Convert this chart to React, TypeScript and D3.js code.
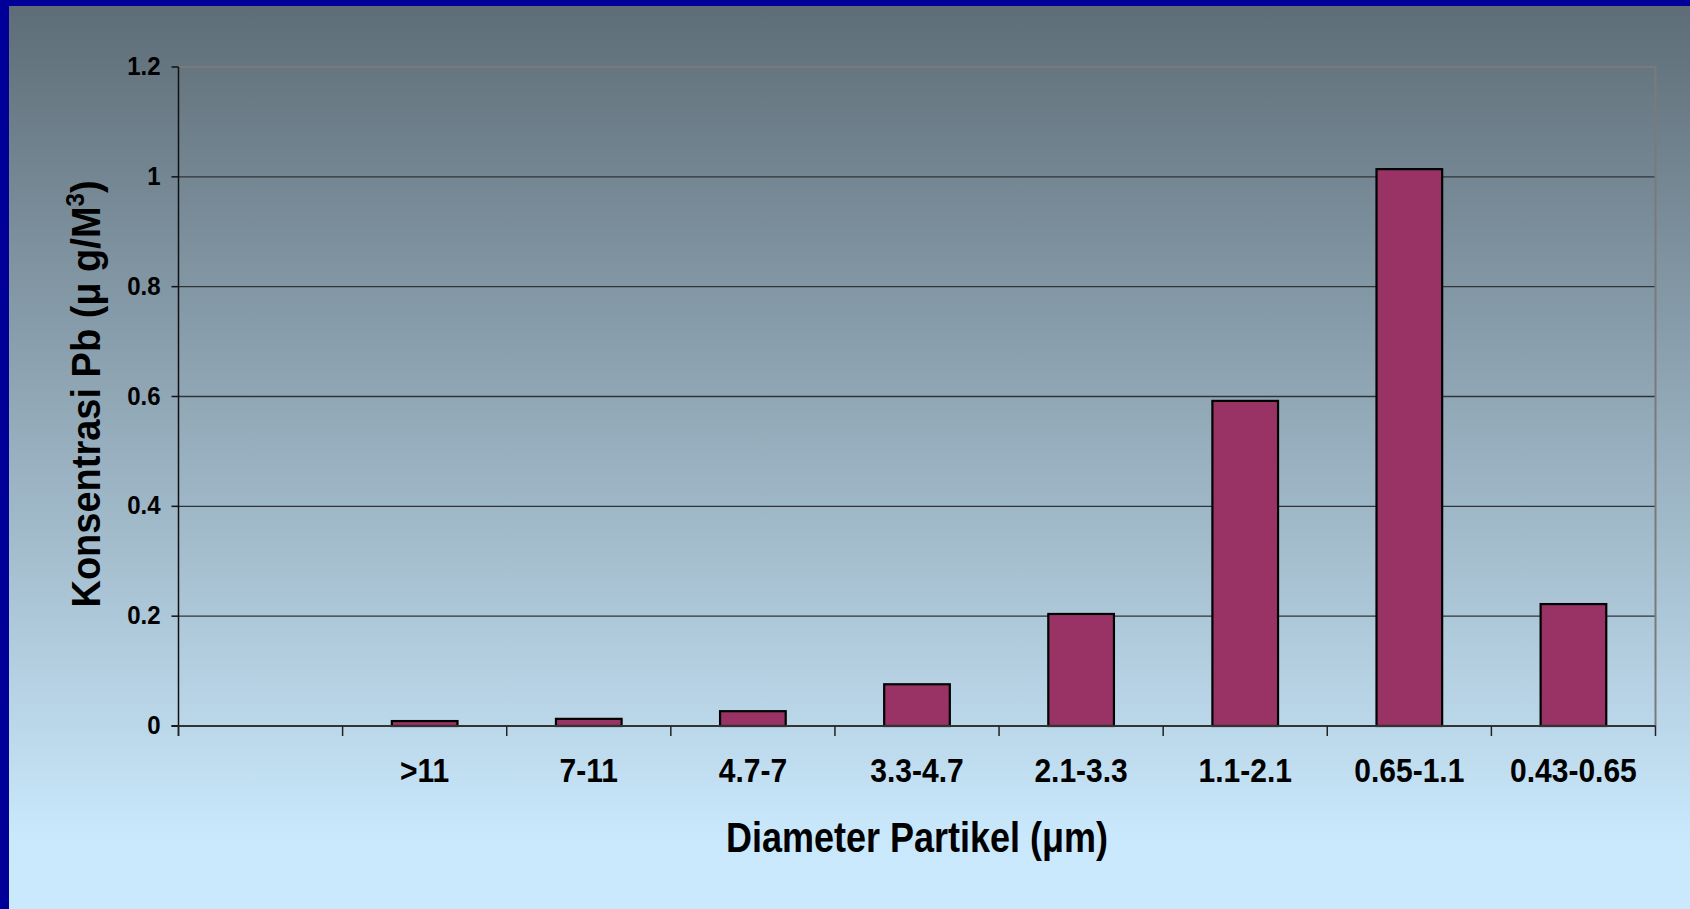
import React from "react";
import * as d3 from "d3";

const categories = ["", ">11", "7-11", "4.7-7", "3.3-4.7", "2.1-3.3", "1.1-2.1", "0.65-1.1", "0.43-0.65"];
const values: (number | null)[] = [null, 0.009, 0.013, 0.027, 0.076, 0.204, 0.592, 1.014, 0.222];
const yTicks = [0, 0.2, 0.4, 0.6, 0.8, 1, 1.2];
const yTickLabels = ["0", "0.2", "0.4", "0.6", "0.8", "1", "1.2"];

const W = 1690;
const H = 909;
const plot = { left: 178.5, right: 1655.5, top: 67, bottom: 726 };
const FONT = "'Liberation Sans', Arial, Helvetica, sans-serif";

export default function App() {
  const slot = d3
    .scaleBand<string>()
    .domain(categories.map((c, i) => String(i)))
    .range([plot.left, plot.right]);
  const y = d3.scaleLinear().domain([0, 1.2]).range([plot.bottom, plot.top]);
  const step = slot.step();
  const barW = step / 2.5;

  const boundaries = d3.range(categories.length + 1).map((i) => plot.left + i * step);

  return (
    <svg
      width={W}
      height={H}
      style={{ position: "absolute", left: 0, top: 0, display: "block" }}
      xmlns="http://www.w3.org/2000/svg"
    >
      <defs>
        <linearGradient id="bg" x1="0" y1="0" x2="0" y2="1">
          <stop offset="0" stopColor="#5d6c76" />
          <stop offset="0.45" stopColor="#93aab9" />
          <stop offset="0.9" stopColor="#c9e8fb" />
          <stop offset="1" stopColor="#cbeafd" />
        </linearGradient>
      </defs>
      <rect x={0} y={0} width={W + 20} height={H + 20} fill="url(#bg)" />
      <rect x={0} y={0} width={W + 20} height={6} fill="#000099" />
      <rect x={0} y={0} width={9} height={H + 20} fill="#000099" />

      {/* gridlines */}
      {yTicks.slice(1, -1).map((t) => (
        <line key={"g" + t} x1={plot.left} x2={plot.right} y1={y(t)} y2={y(t)} stroke="#2f3438" strokeWidth={1.3} />
      ))}
      {/* top and right border */}
      <line x1={plot.left} x2={plot.right} y1={y(1.2)} y2={y(1.2)} stroke="#7a7a7a" strokeWidth={2} />
      <line x1={plot.right} x2={plot.right} y1={y(1.2)} y2={plot.bottom} stroke="#7a7a7a" strokeWidth={2} />

      {/* bars */}
      {values.map((v, i) =>
        v == null ? null : (
          <rect
            key={"b" + i}
            x={slot(String(i))! + (step - barW) / 2}
            y={y(v)}
            width={barW}
            height={plot.bottom - y(v)}
            fill="#993366"
            stroke="#000"
            strokeWidth={2.2}
          />
        )
      )}

      {/* axes */}
      <line x1={plot.left} x2={plot.left} y1={plot.top} y2={plot.bottom + 10} stroke="#111" strokeWidth={1.5} />
      <line x1={plot.left - 7} x2={plot.right} y1={plot.bottom} y2={plot.bottom} stroke="#333" strokeWidth={2} />
      {yTicks.map((t) => (
        <line key={"yt" + t} x1={plot.left - 7} x2={plot.left} y1={y(t)} y2={y(t)} stroke="#111" strokeWidth={1.5} />
      ))}
      {boundaries.map((bx, i) => (
        <line key={"xt" + i} x1={bx} x2={bx} y1={plot.bottom} y2={plot.bottom + 10} stroke="#222" strokeWidth={1.5} />
      ))}

      {/* y tick labels */}
      {yTicks.map((t, i) => (
        <g key={"yl" + t} transform={`translate(${plot.left - 18},${y(t) + 8}) scale(1,1.08)`}>
          <text x={0} y={0} textAnchor="end" fontFamily={FONT} fontWeight="bold" fontSize={24} fill="#000">
            {yTickLabels[i]}
          </text>
        </g>
      ))}

      {/* x tick labels */}
      {categories.map((c, i) => (
        <g key={"xl" + i} transform={`translate(${slot(String(i))! + step / 2},782) scale(1,1.1)`}>
          <text x={0} y={0} textAnchor="middle" fontFamily={FONT} fontWeight="bold" fontSize={30} fill="#000">
            {c}
          </text>
        </g>
      ))}

      {/* x axis title */}
      <g transform={`translate(${917},852) scale(1,1.18)`}>
        <text x={0} y={0} textAnchor="middle" fontFamily={FONT} fontWeight="bold" fontSize={36} fill="#000">
          Diameter Partikel (μm)
        </text>
      </g>

      {/* y axis title */}
      <g transform={`translate(100,${394}) rotate(-90) scale(1,1.05)`}>
        <text x={0} y={0} textAnchor="middle" fontFamily={FONT} fontWeight="bold" fontSize={38} fill="#000">
          Konsentrasi Pb (μ g/M
          <tspan fontSize={24} dy={-15}>3</tspan>
          <tspan dy={15}>)</tspan>
        </text>
      </g>
    </svg>
  );
}
